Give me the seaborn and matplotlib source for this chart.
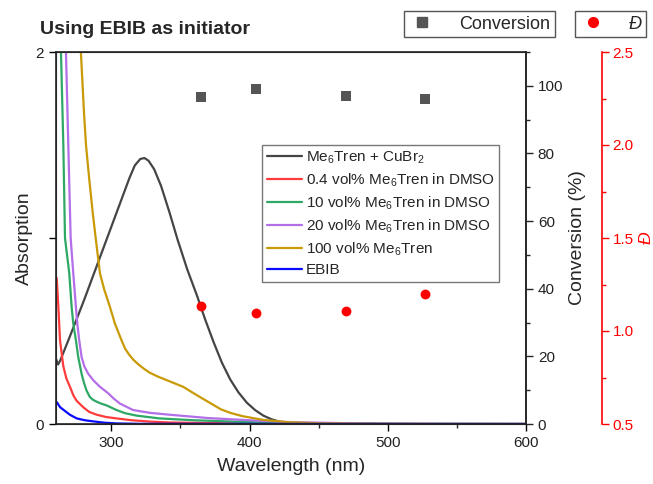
import matplotlib
matplotlib.use("Agg")
import matplotlib.pyplot as plt
import seaborn as sns
import numpy as np
import pandas as pd
from matplotlib.lines import Line2D
from matplotlib.ticker import MultipleLocator

# ---------------- data ----------------
black_wl = [260, 261.5, 263, 270, 280, 290, 300, 308, 313, 317, 321, 324, 327, 331, 336, 342, 348, 355, 362, 368, 374, 380, 386, 392, 398, 404, 410, 416, 422, 430, 440, 600]
black_ab = [0.35, 0.32, 0.34, 0.47, 0.66, 0.86, 1.06, 1.22, 1.32, 1.39, 1.425, 1.43, 1.415, 1.37, 1.28, 1.14, 0.99, 0.83, 0.69, 0.56, 0.44, 0.33, 0.24, 0.17, 0.115, 0.075, 0.045, 0.025, 0.012, 0.004, 0.001, 0.0]

red_wl = [260.5, 261.7, 262.9, 265.3, 267.5, 270.1, 272.5, 274.9, 279.7, 284, 289.4, 296, 303.8, 315, 327.9, 342, 370, 400, 450, 600]
red_ab = [0.785, 0.63, 0.45, 0.31, 0.245, 0.20, 0.155, 0.125, 0.09, 0.065, 0.05, 0.038, 0.03, 0.02, 0.013, 0.008, 0.005, 0.003, 0.0, 0.0]

green_wl = [263.3, 263.6, 265.3, 266.5, 269.6, 271.3, 272.5, 274.4, 276.1, 278.5, 280.3, 282.1, 284.5, 286.8, 289.4, 292.5, 296.6, 303.8, 310, 318.3, 335, 360, 400, 450, 500, 600]
green_ab = [2.1, 2.0, 1.5, 1.0, 0.81, 0.63, 0.54, 0.45, 0.36, 0.27, 0.22, 0.18, 0.145, 0.13, 0.12, 0.11, 0.10, 0.075, 0.058, 0.045, 0.03, 0.02, 0.01, 0.003, 0.0, 0.0]

purple_wl = [266.8, 267.2, 268.9, 270.6, 272.5, 274.4, 275.4, 276.8, 278.5, 280.5, 283.3, 287, 291.8, 297.8, 302, 306.2, 315.8, 327.9, 342, 370, 400, 430, 480, 520, 600]
purple_ab = [2.1, 2.0, 1.5, 1.0, 0.81, 0.63, 0.54, 0.45, 0.36, 0.31, 0.27, 0.235, 0.20, 0.165, 0.135, 0.11, 0.075, 0.06, 0.05, 0.032, 0.02, 0.01, 0.003, 0.0, 0.0]

gold_wl = [277.8, 278, 280.2, 281.7, 284, 286.5, 288.7, 291.8, 295, 299, 302.6, 307.4, 310, 313, 316, 320, 324, 328, 334, 340, 346, 352, 357, 363, 371, 379, 386, 395, 410, 427, 450, 500, 600]
gold_ab = [2.1, 2.0, 1.68, 1.5, 1.32, 1.14, 1.0, 0.81, 0.72, 0.63, 0.54, 0.45, 0.405, 0.372, 0.345, 0.318, 0.295, 0.275, 0.254, 0.236, 0.218, 0.20, 0.177, 0.15, 0.115, 0.08, 0.06, 0.042, 0.022, 0.01, 0.004, 0.001, 0.0]

blue_wl = [260.5, 263, 266.5, 270, 275, 281, 287, 295, 304, 320, 600]
blue_ab = [0.118, 0.09, 0.07, 0.05, 0.03, 0.02, 0.014, 0.007, 0.003, 0.001, 0.0]

series_labels = ["Me$_6$Tren + CuBr$_2$", "0.4 vol% Me$_6$Tren in DMSO", "10 vol% Me$_6$Tren in DMSO",
                 "20 vol% Me$_6$Tren in DMSO", "100 vol% Me$_6$Tren", "EBIB"]
series_colors = ["#454545", "#ff3b3b", "#2fa866", "#b36ee8", "#c99a06", "#0a0aff"]

point_wl = [365, 405, 470, 527]
conversion = [96.8, 99.0, 97.0, 96.2]
dispersity = [1.136, 1.095, 1.107, 1.199]

# ---------------- style ----------------
sns.set_style("ticks")
plt.rcParams["font.family"] = ["Liberation Sans", "DejaVu Sans"]
plt.rcParams["mathtext.fontset"] = "custom"
plt.rcParams["mathtext.rm"] = "Liberation Sans"
plt.rcParams["mathtext.it"] = "Liberation Sans:italic"
plt.rcParams["mathtext.bf"] = "Liberation Sans:bold"

W, H = 653, 484
fig = plt.figure(figsize=(W / 100, H / 100), dpi=100)
L, R, T, B = 56, 526, 52, 424
ax = fig.add_axes([L / W, 1 - B / H, (R - L) / W, (B - T) / H])

curves = [(black_wl, black_ab), (red_wl, red_ab), (green_wl, green_ab),
          (purple_wl, purple_ab), (gold_wl, gold_ab), (blue_wl, blue_ab)]
for (wl, ab), lab, col in zip(curves, series_labels, series_colors):
    sns.lineplot(x=wl, y=ab, ax=ax, color=col, lw=1.6, label=lab, sort=False, estimator=None)

ax.set_xlim(260, 600)
ax.set_ylim(0, 2)
ax.set_xticks([300, 400, 500, 600])
ax.xaxis.set_minor_locator(MultipleLocator(50))
ax.set_yticks([0, 1, 2])
ax.set_yticklabels(["0", "", "2"])
ax.tick_params(axis="both", which="major", labelsize=11, length=5, width=1, direction="out", colors="#000000", labelcolor="#222222")
ax.tick_params(axis="x", which="minor", length=3, width=1)
ax.set_xlabel("Wavelength (nm)", fontsize=14, labelpad=6)
ax.set_ylabel("Absorption", fontsize=14, labelpad=2)
for s in ax.spines.values():
    s.set_visible(True)
    s.set_linewidth(1.2)
    s.set_color("#222222")

leg = ax.legend(loc="upper left", bbox_to_anchor=(262 / W, 1 - 145 / H), bbox_transform=fig.transFigure,
                fontsize=11, frameon=True, fancybox=False, edgecolor="#777777", framealpha=1,
                handlelength=2.3, handletextpad=0.25, labelspacing=0.36, borderpad=0.3, borderaxespad=0)
leg.get_frame().set_linewidth(1.0)
for lh in leg.get_lines():
    lh.set_linewidth(1.6)

# conversion axis
ax2 = ax.twinx()
sns.scatterplot(x=point_wl, y=conversion, ax=ax2, marker="s", color="#555555", s=45, linewidth=0, legend=False, zorder=5)
ax2.set_ylim(0, 110)
ax2.set_yticks([0, 20, 40, 60, 80, 100])
ax2.yaxis.set_minor_locator(MultipleLocator(10))
ax2.tick_params(axis="y", which="major", labelsize=11, length=5, width=1, labelcolor="#222222")
ax2.tick_params(axis="y", which="minor", length=3, width=1)
ax2.set_ylabel("Conversion (%)", fontsize=14, labelpad=4)
ax2.spines["right"].set_linewidth(1.2)

# dispersity axis
ax3 = ax.twinx()
sns.scatterplot(x=point_wl, y=dispersity, ax=ax3, marker="o", color="#ff0000", s=50, linewidth=0, legend=False, zorder=5)
ax3.set_ylim(0.5, 2.5)
ax3.set_yticks([0.5, 1.0, 1.5, 2.0, 2.5])
ax3.set_yticklabels(["0.5", "1.0", "1.5", "2.0", "2.5"])
ax3.yaxis.set_minor_locator(MultipleLocator(0.25))
ax3.spines["right"].set_position(("axes", 1 + 76 / (R - L)))
for k in ["left", "top", "bottom"]:
    ax3.spines[k].set_visible(False)
ax3.spines["right"].set_color("#ff0000")
ax3.spines["right"].set_linewidth(1.2)
ax3.tick_params(axis="y", which="both", colors="#ff0000", width=1)
ax3.tick_params(axis="y", which="major", labelsize=11, length=5, pad=2.5)
ax3.tick_params(axis="y", which="minor", length=3)
ax3.set_ylabel("Đ", fontsize=12.5, color="#ff0000", fontstyle="italic")
ax3.yaxis.set_label_coords((639 - L) / (R - L), 0.5)
ax3.set_xlim(260, 600)
ax2.set_xlim(260, 600)

# top legends
h_conv = [Line2D([], [], ls="none", marker="s", color="#555555", markersize=7)]
h_d = [Line2D([], [], ls="none", marker="o", color="#ff0000", markersize=7)]
fig.legend(h_conv, ["Conversion"], loc="upper left", bbox_to_anchor=(404 / W, 1 - 11 / H),
           fontsize=13, fancybox=False, edgecolor="#555555", framealpha=1, handlelength=1.5,
           handletextpad=1.3, borderpad=0.25, borderaxespad=0)
legd = fig.legend(h_d, ["Đ"], loc="upper left", bbox_to_anchor=(575 / W, 1 - 11 / H),
                  fontsize=13, fancybox=False, edgecolor="#555555", framealpha=1, handlelength=1.5,
                  handletextpad=1.2, borderpad=0.25, borderaxespad=0)
for t in legd.get_texts():
    t.set_fontstyle("italic")

fig.text(40 / W, 1 - 30 / H, "Using EBIB as initiator", fontsize=14, fontweight="bold", va="center", ha="left")

fig.savefig("out.png", dpi=100)
